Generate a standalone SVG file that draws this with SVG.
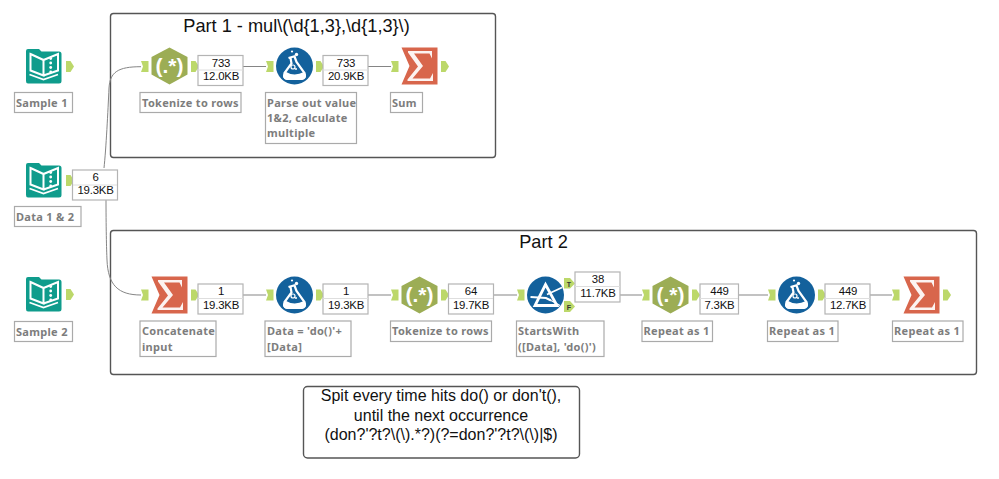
<svg xmlns="http://www.w3.org/2000/svg" width="999" height="479" viewBox="0 0 999 479">
<style>
text{font-family:"Liberation Sans",Arial,sans-serif;fill:#111}
.box{fill:#fff;stroke:#555;stroke-width:1.4}
.title{font-size:18.2px;text-anchor:middle}
.note{font-size:16px;text-anchor:middle}
.lbl{fill:#fff;stroke:#aaa;stroke-width:1.2}
.lt{font-family:"Noto Sans",sans-serif;font-size:11px;letter-spacing:.3px;font-weight:700;fill:#7d7d7d}
.cnt{fill:#fff;stroke:#b4b4b4;stroke-width:1.2}
.cl{stroke:#dedede;stroke-width:1}
.ct{font-size:11.4px;letter-spacing:-.2px;text-anchor:middle}
.wire{fill:none;stroke:#858585;stroke-width:1}
.port{fill:#bcd86a}
.wh{fill:none;stroke:#fff}
.rx{font-size:21px;font-weight:700;fill:#fff;text-anchor:middle}
.tf{font-size:7px;font-weight:700;fill:#333;text-anchor:middle}
</style>
<defs>
<path id="in" class="port" d="M0 0H7.500V11H0L2 5.500Z"/>
<path id="out" class="port" d="M0 0H4.500L8 5.500L4.500 11H0Z"/>
<g id="book">
<path d="M0 3Q0 1 2 1H13L15.500 3.500H33Q35.500 3.500 35.500 6V33Q35.500 35.500 33 35.500H2Q0 35.500 0 33Z" fill="#0f9c8c"/>
<path class="wh" stroke-width="2" d="M4.500 6L17.500 12V27.500L4.500 22.500ZM17.500 12L32 6V22.500L17.500 27.500"/>
<path class="wh" stroke-width="1.800" d="M3.500 26.500L17.500 31.500L32 26.500"/>
<circle cx="24.700" cy="10.500" r="1.400" fill="#fff"/><circle cx="24.700" cy="15" r="1.400" fill="#fff"/><circle cx="24.700" cy="19.500" r="1.400" fill="#fff"/><circle cx="24.700" cy="24" r="1.400" fill="#fff"/>
</g>
<g id="regex">
<path d="M18.500 0L36.500 9.500V27L18.500 37L0.500 27V9.500Z" fill="#9cad55"/>
<text class="rx" x="18.500" y="25">(.*)</text>
</g>
<g id="formula">
<circle cx="18.500" cy="18.500" r="18.500" fill="#13619c"/>
<path d="M12.500 10.500L19.500 8.500M14.500 10.500L15.500 16L8.500 25.500Q7 31 11.500 31.500H25.500Q30.500 31 28.500 25.500L20.500 14.500L18.500 9" fill="none" stroke="#fff" stroke-width="2.200"/>
<path d="M9 24Q18 29.500 28 24.500L30 28.500Q28.500 32.500 25 32.500H12Q7.500 32.500 7 28.500Z" fill="#fff"/>
<circle cx="17" cy="19.500" r="2" fill="none" stroke="#fff" stroke-width="1.200"/>
<circle cx="20" cy="21.500" r="1" fill="#fff"/>
<circle cx="20.500" cy="7" r="1.700" fill="#fff"/><circle cx="16" cy="4" r="1.100" fill="#fff"/>
</g>
<g id="sum">
<path d="M0.500 0H36.500V37H0.500L8.500 18.500Z" fill="#d8664c"/>
<path d="M7 3.500H31V11L28.500 6H13L22 18.500L11.500 31H29L32 25.500V33.500H6.500V32L17 19L7 5Z" fill="#fff" opacity=".92"/>
</g>
<g id="filter">
<circle cx="18.500" cy="18.500" r="18.500" fill="#13619c"/>
<path d="M20 18L35 11" stroke="#fff" stroke-width="1.800"/>
<path d="M18.500 8L30 29H8Z" fill="none" stroke="#fff" stroke-width="2.800"/>
<path d="M3.500 20.500L19 21.500L24 24" fill="none" stroke="#fff" stroke-width="2.200"/>
<path d="M24 24L33 29" stroke="#fff" stroke-width="1.200"/>
</g>
</defs>

<g id="container-part1">
<rect class="box" x="110.500" y="13.500" width="385" height="144" rx="3"/>
<text class="title" x="296.500" y="32">Part 1 - mul\(\d{1,3},\d{1,3}\)</text>
</g>
<g id="container-part2">
<rect class="box" x="110.500" y="230.500" width="866" height="144" rx="3"/>
<text class="title" x="543.500" y="248">Part 2</text>
</g>
<g id="note">
<rect class="box" x="303.500" y="386.500" width="276" height="71.500" rx="4"/>
<text class="note" x="441" y="401">Spit every time hits do() or don't(),</text>
<text class="note" x="441" y="420.500">until the next occurrence</text>
<text class="note" x="441" y="440">(don?'?t?\(\).*?)(?=don?'?t?\(\)|$)</text>
</g>

<g id="connectors">
<path class="wire" d="M72 177H84"/>
<path class="wire" d="M104 168C106 150 108 110 109 88C110 72 118 66.700 141 66.700"/>
<path class="wire" d="M106 198C106 225 106.500 250 107 260C108 285 118 295 141 295"/>
<path class="wire" d="M243 66.500H266M368 66.500H391"/>
<path class="wire" d="M243 295H266M368 295H391M493 295H517M620 295H642M738 295H768M870 295H892"/>
</g>

<g id="sample1"><use href="#book" x="26" y="48"/><use href="#out" x="66" y="61"/>
<rect class="lbl" x="14.500" y="92.500" width="58" height="20"/><text class="lt" x="16" y="106.500">Sample 1</text></g>
<g id="data12"><use href="#book" x="26" y="162"/><use href="#out" x="66" y="175"/>
<rect class="lbl" x="14.500" y="206.500" width="66.500" height="20"/><text class="lt" x="16" y="220.500">Data 1 &amp; 2</text></g>
<g id="sample2"><use href="#book" x="26" y="276"/><use href="#out" x="66" y="289"/>
<rect class="lbl" x="14.500" y="321.500" width="58" height="20"/><text class="lt" x="16" y="335.500">Sample 2</text></g>

<g id="count-data"><rect class="cnt" x="72.500" y="170" width="45" height="30"/><line class="cl" x1="73" y1="185" x2="117" y2="185"/>
<text class="ct" x="95.500" y="181">6</text><text class="ct" x="95.500" y="194">19.3KB</text></g>

<g id="tokenize1"><use href="#in" x="141" y="61"/><use href="#regex" x="151" y="47.500"/><use href="#out" x="191" y="61"/>
<rect class="lbl" x="140" y="92.500" width="101" height="20"/><text class="lt" x="142" y="106.500">Tokenize to rows</text>
<rect class="cnt" x="198" y="55.500" width="45" height="30"/><line class="cl" x1="198" y1="70" x2="243" y2="70"/>
<text class="ct" x="221" y="67">733</text><text class="ct" x="221" y="80">12.0KB</text></g>

<g id="parse"><use href="#in" x="266" y="61"/><use href="#formula" x="276" y="47.500"/><use href="#out" x="316" y="61"/>
<rect class="lbl" x="265.500" y="92.500" width="91" height="51"/><text class="lt" x="267" y="106.500">Parse out value</text><text class="lt" x="267" y="121.500">1&amp;2, calculate</text><text class="lt" x="267" y="136.500">multiple</text>
<rect class="cnt" x="323" y="55.500" width="45" height="30"/><line class="cl" x1="323" y1="70" x2="368" y2="70"/>
<text class="ct" x="346" y="67">733</text><text class="ct" x="346" y="80">20.9KB</text></g>

<g id="sum1"><use href="#in" x="391" y="61"/><use href="#sum" x="401" y="47.500"/><use href="#out" x="441" y="61"/>
<rect class="lbl" x="390.500" y="92.500" width="32" height="20"/><text class="lt" x="392" y="106.500">Sum</text></g>

<g id="concat"><use href="#in" x="141" y="289.500"/><use href="#sum" x="151" y="276.500"/><use href="#out" x="191" y="289.500"/>
<rect class="lbl" x="140" y="321" width="76" height="35.500"/><text class="lt" x="142" y="335">Concatenate</text><text class="lt" x="142" y="351">input</text>
<rect class="cnt" x="198" y="284" width="45" height="30"/><line class="cl" x1="198" y1="298.500" x2="243" y2="298.500"/>
<text class="ct" x="221" y="295">1</text><text class="ct" x="221" y="309">19.3KB</text></g>

<g id="formula-do"><use href="#in" x="266" y="289.500"/><use href="#formula" x="276" y="276.500"/><use href="#out" x="316" y="289.500"/>
<rect class="lbl" x="265" y="321" width="86" height="35.500"/><text class="lt" x="267" y="335">Data = 'do()'+</text><text class="lt" x="267" y="351">[Data]</text>
<rect class="cnt" x="323" y="284" width="45" height="30"/><line class="cl" x1="323" y1="298.500" x2="368" y2="298.500"/>
<text class="ct" x="346" y="295">1</text><text class="ct" x="346" y="309">19.3KB</text></g>

<g id="tokenize2"><use href="#in" x="391" y="289.500"/><use href="#regex" x="401" y="276.500"/><use href="#out" x="441" y="289.500"/>
<rect class="lbl" x="390.500" y="321" width="101" height="20.500"/><text class="lt" x="392" y="335">Tokenize to rows</text>
<rect class="cnt" x="448.500" y="284" width="45" height="30"/><line class="cl" x1="449" y1="298.500" x2="493" y2="298.500"/>
<text class="ct" x="471" y="295">64</text><text class="ct" x="471" y="309">19.7KB</text></g>

<g id="startswith"><use href="#in" x="517" y="289.500"/><use href="#filter" x="527" y="276.500"/>
<path class="port" d="M564 278H570L575 283.500L570 288.500H564Z"/><path class="port" d="M564 301H570L575 306.500L570 312H564Z"/>
<text class="tf" x="569" y="286.500">T</text>
<text class="tf" x="569" y="309.500">F</text>
<rect class="lbl" x="516.500" y="321" width="87.500" height="35.500"/><text class="lt" x="518" y="335">StartsWith</text><text class="lt" x="518" y="351">([Data], 'do()')</text>
<rect class="cnt" x="575" y="272" width="45" height="30"/><line class="cl" x1="575" y1="286.500" x2="620" y2="286.500"/>
<text class="ct" x="598" y="283">38</text><text class="ct" x="598" y="297">11.7KB</text></g>

<g id="repeat1"><use href="#in" x="642" y="289.500"/><use href="#regex" x="652" y="276.500"/><use href="#out" x="692" y="289.500"/>
<rect class="lbl" x="642" y="321" width="70.500" height="20.500"/><text class="lt" x="643.500" y="335">Repeat as 1</text>
<rect class="cnt" x="700" y="284" width="38.500" height="30"/><line class="cl" x1="700" y1="298.500" x2="738" y2="298.500"/>
<text class="ct" x="719.500" y="295">449</text><text class="ct" x="719.500" y="309">7.3KB</text></g>

<g id="repeat2"><use href="#in" x="768" y="289.500"/><use href="#formula" x="778" y="276.500"/><use href="#out" x="818" y="289.500"/>
<rect class="lbl" x="767.500" y="321" width="70.500" height="20.500"/><text class="lt" x="769" y="335">Repeat as 1</text>
<rect class="cnt" x="825" y="284" width="45" height="30"/><line class="cl" x1="825" y1="298.500" x2="870" y2="298.500"/>
<text class="ct" x="848" y="295">449</text><text class="ct" x="848" y="309">12.7KB</text></g>

<g id="repeat3"><use href="#in" x="892" y="289.500"/><use href="#sum" x="903" y="276.500"/><use href="#out" x="943" y="289.500"/>
<rect class="lbl" x="892.500" y="321" width="70.500" height="20.500"/><text class="lt" x="894" y="335">Repeat as 1</text></g>
</svg>
